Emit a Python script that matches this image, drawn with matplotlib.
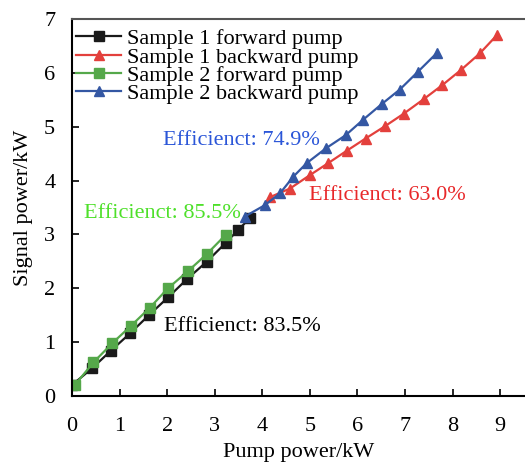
import matplotlib
matplotlib.use("Agg")
import matplotlib.pyplot as plt

# sample 1 forward pump
s1f_x = [0.0, 0.42, 0.82, 1.22, 1.62, 2.02, 2.42, 2.83, 3.23, 3.49, 3.74]
s1f_y = [0.20, 0.51, 0.84, 1.16, 1.50, 1.83, 2.17, 2.49, 2.84, 3.08, 3.30]
# sample 1 backward pump
s1b_x = [4.16, 4.58, 5.00, 5.38, 5.77, 6.17, 6.58, 6.97, 7.39, 7.78, 8.17, 8.57, 8.94]
s1b_y = [3.69, 3.85, 4.10, 4.32, 4.55, 4.78, 5.01, 5.24, 5.51, 5.77, 6.05, 6.36, 6.71]
# sample 2 forward pump
s2f_x = [0.06, 0.45, 0.85, 1.24, 1.64, 2.02, 2.43, 2.83, 3.23]
s2f_y = [0.20, 0.62, 0.98, 1.30, 1.64, 2.00, 2.31, 2.63, 2.99]
# sample 2 backward pump
s2b_x = [3.63, 4.05, 4.37, 4.65, 4.93, 5.34, 5.75, 6.12, 6.51, 6.89, 7.27, 7.67]
s2b_y = [3.33, 3.54, 3.76, 4.07, 4.32, 4.60, 4.84, 5.13, 5.42, 5.69, 6.02, 6.37]

labels = ["Sample 1 forward pump", "Sample 1 backward pump",
          "Sample 2 forward pump", "Sample 2 backward pump"]

plt.rcParams['font.family'] = ['Liberation Serif', 'DejaVu Serif']
plt.rcParams['font.size'] = 16

fig = plt.figure(figsize=(5.25, 4.63), dpi=100)
ax = fig.add_axes([0.137, 0.145, 0.863, 0.814])

ax.plot(s1f_x, s1f_y, color='#1a1a1a', marker='s', ms=6.5, lw=1.6, label=labels[0])
ax.plot(s1b_x, s1b_y, color='#e3403c', marker='^', ms=7.5, lw=1.6, label=labels[1])
ax.plot(s2f_x, s2f_y, color='#55a84a', marker='s', ms=6.5, lw=1.6, label=labels[2])
ax.plot(s2b_x, s2b_y, color='#3457a3', marker='^', ms=7.5, lw=1.6, label=labels[3])

ax.text(1.91, 4.75, "Efficienct: 74.9%", color='#2b56d8', va='center', fontsize=16)
ax.text(4.98, 3.73, "Efficienct: 63.0%", color='#e8282a', va='center', fontsize=16)
ax.text(0.25, 3.38, "Efficienct: 85.5%", color='#4ee02a', va='center', fontsize=16)
ax.text(1.93, 1.28, "Efficienct: 83.5%", color='black', va='center', fontsize=16)

ax.set_xlim(0, 9.52)
ax.set_ylim(0, 7)
ax.set_xticks(range(0, 10))
ax.set_yticks(range(0, 8))
ax.tick_params(direction='in', length=5, width=1.2, labelsize=16)
ax.tick_params(axis='x', pad=15)
ax.tick_params(axis='y', pad=12)
ax.set_xlabel("Pump power/kW", fontsize=16, labelpad=5)
ax.set_ylabel("Signal power/kW", fontsize=16, labelpad=8)

for s in ['left', 'bottom']:
    ax.spines[s].set_linewidth(1.5)
ax.spines['top'].set_color('#555555')
ax.spines['top'].set_linewidth(1.5)
ax.spines['right'].set_visible(False)

ax.legend(loc='upper left', frameon=False, fontsize=16, labelspacing=-0.1,
          handlelength=2.0, handletextpad=0.3, borderaxespad=0.0,
          bbox_to_anchor=(-0.01, 0.998))

fig.savefig("out.png", dpi=100)
